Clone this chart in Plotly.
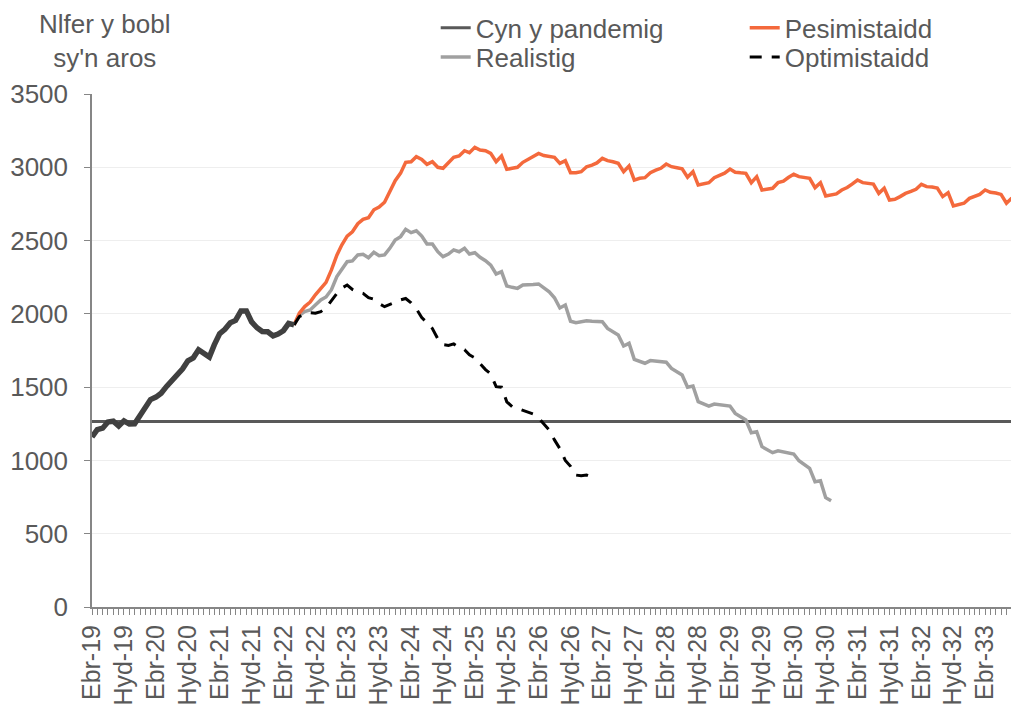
import pandas as pd
import plotly.graph_objects as go

# ---------------- data ----------------
months = pd.date_range("2019-04-01", periods=174, freq="MS")

tick_dates = pd.date_range("2019-04-01", periods=29, freq="6MS")
tick_labels = ["Ebr-19", "Hyd-19", "Ebr-20", "Hyd-20", "Ebr-21", "Hyd-21", "Ebr-22", "Hyd-22",
               "Ebr-23", "Hyd-23", "Ebr-24", "Hyd-24", "Ebr-25", "Hyd-25", "Ebr-26", "Hyd-26",
               "Ebr-27", "Hyd-27", "Ebr-28", "Hyd-28", "Ebr-29", "Hyd-29", "Ebr-30", "Hyd-30",
               "Ebr-31", "Hyd-31", "Ebr-32", "Hyd-32", "Ebr-33"]

# pre-pandemic level
baseline = 1265

# observed waiting list (Apr 2019 - Jun 2022)
observed = [1160, 1210, 1220, 1262, 1268, 1235, 1270, 1248, 1250, 1305, 1360, 1415,
            1432, 1458, 1505, 1540, 1580, 1625, 1680, 1700, 1755, 1726, 1705, 1788,
            1865, 1895, 1940, 1955, 2020, 2020, 1945, 1905, 1880, 1878, 1850, 1862,
            1885, 1935, 1925]

# scenarios (from Jun 2022)
pessimistic = [1925, 2005, 2050, 2080, 2130, 2170,
               2215, 2300, 2400, 2470, 2530, 2560,
               2615, 2645, 2656, 2710, 2728, 2762,
               2833, 2909, 2960, 3034, 3038, 3072,
               3054, 3020, 3038, 3000, 2993, 3031,
               3068, 3077, 3113, 3100, 3136, 3118,
               3113, 3095, 3038, 3077, 2986, 2993,
               3000, 3034, 3054, 3070, 3095, 3080,
               3073, 3068, 3027, 3045, 2963, 2963,
               2970, 3004, 3015, 3030, 3061, 3045,
               3038, 3027, 2970, 3009, 2913, 2925,
               2929, 2963, 2980, 2993, 3022, 3004,
               2997, 2990, 2932, 2970, 2879, 2888,
               2895, 2929, 2945, 2960, 2988, 2966,
               2962, 2959, 2895, 2936, 2845, 2852,
               2857, 2895, 2905, 2930, 2952, 2936,
               2930, 2925, 2861, 2895, 2804, 2812,
               2818, 2845, 2862, 2885, 2913, 2895,
               2890, 2885, 2822, 2857, 2777, 2782,
               2800, 2822, 2835, 2850, 2884, 2868,
               2865, 2858, 2800, 2827, 2736, 2745,
               2755, 2788, 2800, 2815, 2845, 2829,
               2825, 2815, 2755, 2790]

realistic = [1925, 1990, 2015, 2026, 2060, 2095,
             2115, 2165, 2254, 2305, 2356, 2361,
             2402, 2406, 2383, 2420, 2397, 2402,
             2447, 2504, 2527, 2577, 2554, 2567,
             2531, 2477, 2477, 2424, 2390, 2408,
             2436, 2424, 2447, 2408, 2417, 2386,
             2363, 2333, 2272, 2288, 2190, 2181,
             2174, 2197, 2197, 2200, 2204, 2180,
             2150, 2110, 2040, 2060, 1950, 1940,
             1945, 1953, 1950, 1947, 1947, 1901,
             1880, 1856, 1781, 1799, 1690, 1675,
             1663, 1681, 1676, 1672, 1670, 1628,
             1605, 1583, 1499, 1508, 1401, 1385,
             1371, 1385, 1380, 1375, 1371, 1321,
             1300, 1276, 1189, 1196, 1094, 1075,
             1053, 1066, 1058, 1050, 1044, 998,
             975, 946, 855, 862, 746, 725]

optimistic = [1925, 1981, 2000, 2008, 2005, 2015,
              2040, 2090, 2140, 2175, 2197, 2167,
              2150, 2140, 2110, 2100, 2070, 2049,
              2065, 2080, 2095, 2105, 2075, 2035,
              1975, 1940, 1900, 1830, 1790, 1785,
              1795, 1770, 1755, 1720, 1700, 1660,
              1620, 1590, 1503, 1500, 1400, 1367,
              1355, 1344, 1330, 1317, 1290, 1253,
              1208, 1140, 1080, 1000, 960, 900,
              895, 900, 885]

start = len(observed) - 1

# ---------------- figure ----------------
FONT = "Liberation Sans, Arial, sans-serif"
TXT = "#595959"
FS = 26

fig = go.Figure()

fig.add_trace(go.Scatter(x=[months[0], months[-1]], y=[baseline, baseline], mode="lines",
                         name="Cyn y pandemig", line=dict(color="#595959", width=3),
                         legend="legend", hoverinfo="skip"))
fig.add_trace(go.Scatter(x=months[start:start + len(realistic)], y=realistic, mode="lines",
                         name="Realistig", line=dict(color="#A0A0A0", width=3.5),
                         legend="legend2"))
fig.add_trace(go.Scatter(x=months[start:start + len(pessimistic)], y=pessimistic, mode="lines",
                         name="Pesimistaidd", line=dict(color="#F4693C", width=3.5),
                         legend="legend"))
fig.add_trace(go.Scatter(x=months[start:start + len(optimistic)], y=optimistic, mode="lines",
                         name="Optimistaidd", line=dict(color="#000000", width=3, dash="12px,10px"),
                         legend="legend2"))
fig.add_trace(go.Scatter(x=months[:len(observed)], y=observed, mode="lines",
                         name="Observed", showlegend=False,
                         line=dict(color="#404040", width=5.5)))

legend_common = dict(orientation="h", xanchor="left", yanchor="middle",
                     font=dict(family=FONT, size=FS, color=TXT),
                     bgcolor="rgba(0,0,0,0)", entrywidth=264, entrywidthmode="pixels",
                     itemclick=False, itemdoubleclick=False, traceorder="normal")

fig.update_layout(
    width=1011, height=706,
    margin=dict(l=92, r=0, t=94, b=99, autoexpand=False),
    paper_bgcolor="white", plot_bgcolor="white",
    font=dict(family=FONT, size=FS, color=TXT),
    showlegend=True,
    legend=dict(x=0.374, y=1.129, **legend_common),
    legend2=dict(x=0.374, y=1.072, **legend_common),
    xaxis=dict(
        type="date",
        range=["2019-04-01", "2033-08-27"],
        tickmode="array", tickvals=list(tick_dates), ticktext=tick_labels,
        tickangle=-90,
        ticks="outside", ticklen=6, tickwidth=1, tickcolor="#868686",
        minor=dict(dtick="M1", tick0="2019-04-01", ticks="outside", ticklen=6,
                   tickwidth=1, tickcolor="#868686", showgrid=False),
        showline=True, linecolor="#868686", linewidth=2,
        showgrid=False, zeroline=False,
        tickfont=dict(family=FONT, size=25, color=TXT),
    ),
    yaxis=dict(
        range=[0, 3500], dtick=500, tick0=0,
        ticks="outside", ticklen=6, tickwidth=1, tickcolor="#868686",
        showline=True, linecolor="#868686", linewidth=1.5,
        showgrid=True, gridcolor="#EEEEEE", gridwidth=1,
        zeroline=False, ticklabelstandoff=11,
        tickfont=dict(family=FONT, size=FS, color=TXT),
    ),
    annotations=[dict(text="Nlfer y bobl<br>sy'n aros", xref="paper", yref="paper",
                      x=0.0145, y=1.103, xanchor="center", yanchor="middle",
                      showarrow=False, align="center",
                      font=dict(family=FONT, size=FS, color=TXT))],
)

fig.write_html("out.html", config={"displayModeBar": False},
               post_script="document.body.style.margin='0';")
